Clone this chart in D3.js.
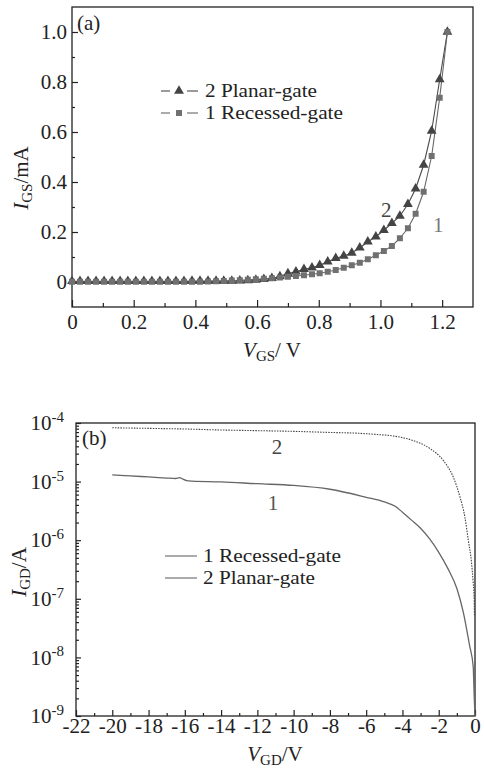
<!DOCTYPE html>
<html>
<head>
<meta charset="utf-8">
<script src="https://cdn.jsdelivr.net/npm/d3@7"></script>
<style>
    body { margin: 0; background: #fff; }
    svg text { font-family: 'Liberation Serif', 'Times New Roman', serif; }
</style>
</head>
<body>
<script>
// Panel (a) data: gate-source forward current
const vgs = [0, 0.026, 0.052, 0.078, 0.104, 0.130, 0.156, 0.181, 0.207, 0.233, 0.259, 0.285,
    0.311, 0.337, 0.363, 0.389, 0.415, 0.441, 0.467, 0.492, 0.518, 0.544, 0.570, 0.596,
    0.622, 0.648, 0.674, 0.700, 0.726, 0.752, 0.778, 0.803, 0.829, 0.855, 0.881, 0.907,
    0.933, 0.959, 0.985, 1.011, 1.037, 1.063, 1.089, 1.114, 1.140, 1.166, 1.192, 1.217];
const igsPlanar = [0.003, 0.003, 0.003, 0.003, 0.003, 0.003, 0.003, 0.003, 0.003, 0.003, 0.003, 0.003,
    0.003, 0.003, 0.003, 0.004, 0.004, 0.004, 0.004, 0.004, 0.004, 0.005, 0.006, 0.008,
    0.011, 0.015, 0.022, 0.034, 0.041, 0.051, 0.057, 0.067, 0.081, 0.095, 0.104, 0.116,
    0.137, 0.161, 0.181, 0.207, 0.235, 0.264, 0.311, 0.373, 0.468, 0.604, 0.81, 1.0];
const igsRecessed = [0.001, 0.001, 0.001, 0.001, 0.001, 0.001, 0.001, 0.001, 0.001, 0.001, 0.001, 0.001,
    0.001, 0.001, 0.001, 0.001, 0.001, 0.002, 0.003, 0.004, 0.006, 0.007, 0.009, 0.011,
    0.013, 0.015, 0.018, 0.021, 0.024, 0.027, 0.031, 0.035, 0.041, 0.048, 0.057, 0.067,
    0.077, 0.091, 0.107, 0.124, 0.144, 0.175, 0.215, 0.273, 0.361, 0.504, 0.737, 1.0];
const xTicksA = [0, 0.2, 0.4, 0.6, 0.8, 1.0, 1.2];
const xMinorA = [0.1, 0.3, 0.5, 0.7, 0.9, 1.1];
const yTicksA = [0, 0.2, 0.4, 0.6, 0.8, 1.0];
const yMinorA = [0.1, 0.3, 0.5, 0.7, 0.9];

// Panel (b) data: gate-drain reverse current
const vgdPlanar = [-20, -18, -16, -14, -12, -10, -8, -6.5, -5.5, -4.5, -3.4, -2.5, -1.75, -1.2,
    -0.83, -0.56, -0.37, -0.19, -0.1, -0.05, -0.03];
const igdPlanar = [8.3e-5, 8.1e-5, 7.9e-5, 7.6e-5, 7.4e-5, 7.2e-5, 6.9e-5, 6.7e-5, 6.4e-5, 6.0e-5,
    5.0e-5, 3.7e-5, 2.3e-5, 1.2e-5, 5.5e-6, 2.5e-6, 1.0e-6, 4.1e-7, 1.9e-7, 1.1e-7, 5e-8];
const vgdRecessed = [-20, -19, -18, -17, -16.5, -16.3, -16.1, -15.9, -15.6, -14, -12, -10, -8,
    -6, -5, -4.4, -4, -3.5, -3, -2.5, -2, -1.5, -1, -0.65, -0.3, -0.1, -0.04, 0];
const igdRecessed = [1.3e-5, 1.25e-5, 1.2e-5, 1.15e-5, 1.13e-5, 1.17e-5, 1.1e-5, 1.04e-5, 1.02e-5,
    9.9e-6, 9.2e-6, 8.6e-6, 7.4e-6, 5.4e-6, 4.5e-6, 3.8e-6, 3.0e-6, 2.2e-6, 1.6e-6, 1.05e-6,
    6.2e-7, 3.3e-7, 1.5e-7, 6e-8, 1.6e-8, 7e-9, 2e-9, 1e-9];
const xTicksB = [-22, -20, -18, -16, -14, -12, -10, -8, -6, -4, -2, 0];
const xMinorB = [-21, -19, -17, -15, -13, -11, -9, -7, -5, -3, -1];
const yExpB = [-9, -8, -7, -6, -5, -4];

const ink = '#222';
const fs = 21;

let svg = d3.select('body').append('svg').attr('width', 484).attr('height', 770);

// ---------- panel (a) ----------
let xA = d3.scaleLinear().domain([0, 1.3]).range([72, 473]);
let yA = d3.scaleLinear().domain([-0.1, 1.1]).range([307, 7]);

let gA = svg.append('g');

gA.append('g')
    .attr('transform', 'translate(0,307)')
    .call(d3.axisBottom(xA).tickValues(xTicksA).tickSize(-7).tickPadding(7)
        .tickFormat(d => (d === 0 ? '0' : d3.format('.1f')(d))));
gA.append('g')
    .attr('transform', 'translate(0,307)')
    .call(d3.axisBottom(xA).tickValues(xMinorA).tickSize(-4).tickFormat(''));
gA.append('g')
    .attr('transform', 'translate(72,0)')
    .call(d3.axisLeft(yA).tickValues(yTicksA).tickSize(-6).tickPadding(5)
        .tickFormat(d => (d === 0 ? '0' : d3.format('.1f')(d))));
gA.append('g')
    .attr('transform', 'translate(72,0)')
    .call(d3.axisLeft(yA).tickValues(yMinorA).tickSize(-3).tickFormat(''));

gA.append('rect')
    .attr('x', 72).attr('y', 7).attr('width', 401).attr('height', 300)
    .attr('fill', 'none').attr('stroke', ink).attr('stroke-width', 1.3);

let ptsPlanar = vgs.map((v, i) => [v, igsPlanar[i]]);
let ptsRecessed = vgs.map((v, i) => [v, igsRecessed[i]]);
let lineA = d3.line().x(d => xA(d[0])).y(d => yA(d[1]));

gA.append('path').datum(ptsPlanar)
    .attr('d', lineA).attr('fill', 'none').attr('stroke', '#4a4a4a').attr('stroke-width', 1.1);
gA.append('path').datum(ptsRecessed)
    .attr('d', lineA).attr('fill', 'none').attr('stroke', '#666').attr('stroke-width', 1.1);

let tri = d3.symbol(d3.symbolTriangle).size(42);
let sq = d3.symbol(d3.symbolSquare).size(36);

gA.selectAll('path.tri').data(ptsPlanar).enter().append('path')
    .attr('class', 'tri')
    .attr('d', tri)
    .attr('transform', d => `translate(${xA(d[0])},${yA(d[1])})`)
    .attr('fill', '#444');
gA.selectAll('path.sq').data(ptsRecessed).enter().append('path')
    .attr('class', 'sq')
    .attr('d', sq)
    .attr('transform', d => `translate(${xA(d[0])},${yA(d[1])})`)
    .attr('fill', '#707070');

// legend (a)
let legA = [
    { y: 91, sym: tri, fill: '#444', stroke: '#4a4a4a', label: '2 Planar-gate', w: 112 },
    { y: 113, sym: sq, fill: '#707070', stroke: '#666', label: '1 Recessed-gate', w: 138 }
];
legA.forEach(l => {
    gA.append('line').attr('x1', 161).attr('x2', 170).attr('y1', l.y).attr('y2', l.y)
        .attr('stroke', l.stroke).attr('stroke-width', 1.1);
    gA.append('line').attr('x1', 187).attr('x2', 198).attr('y1', l.y).attr('y2', l.y)
        .attr('stroke', l.stroke).attr('stroke-width', 1.1);
    gA.append('path').attr('d', l.sym).attr('transform', `translate(179,${l.y})`).attr('fill', l.fill);
    gA.append('text').attr('x', 205).attr('y', l.y + 6).attr('font-size', 19)
        .attr('textLength', l.w).attr('lengthAdjust', 'spacingAndGlyphs')
        .attr('fill', ink).text(l.label);
});

gA.append('text').attr('x', 77).attr('y', 30).attr('font-size', fs).attr('fill', ink).text('(a)');
gA.append('text').attr('x', 381).attr('y', 217).attr('font-size', fs).attr('fill', '#444').text('2');
gA.append('text').attr('x', 433).attr('y', 232).attr('font-size', fs).attr('fill', '#777').text('1');

let xLabA = gA.append('text').attr('x', 272).attr('y', 357).attr('text-anchor', 'middle')
    .attr('font-size', fs).attr('fill', ink);
xLabA.append('tspan').attr('font-style', 'italic').text('V');
xLabA.append('tspan').attr('font-size', 15).attr('dy', 4).text('GS');
xLabA.append('tspan').attr('dy', -4).text('/ V');

let yLabA = gA.append('text').attr('transform', 'translate(28,178) rotate(-90)')
    .attr('text-anchor', 'middle').attr('font-size', fs).attr('fill', ink);
yLabA.append('tspan').attr('font-style', 'italic').text('I');
yLabA.append('tspan').attr('font-size', 15).attr('dy', 4).text('GS');
yLabA.append('tspan').attr('dy', -4).text('/mA');

// ---------- panel (b) ----------
let xB = d3.scaleLinear().domain([-22, 0]).range([76, 475]);
let yB = d3.scaleLog().domain([1e-9, 1e-4]).range([716, 423]);

let gB = svg.append('g');

gB.append('g')
    .attr('transform', 'translate(0,716)')
    .call(d3.axisBottom(xB).tickValues(xTicksB).tickSize(-6).tickPadding(2).tickFormat(d => String(d)));
gB.append('g')
    .attr('transform', 'translate(0,716)')
    .call(d3.axisBottom(xB).tickValues(xMinorB).tickSize(-3).tickFormat(''));

let decades = yExpB.map(e => Math.pow(10, e));
let yMinorB = yB.ticks().filter(v => decades.every(d => Math.abs(v - d) / d > 1e-6));

let yAxB = gB.append('g')
    .attr('transform', 'translate(76,0)')
    .call(d3.axisLeft(yB).tickValues(decades).tickSize(-5).tickPadding(12).tickFormat(''));
gB.append('g')
    .attr('transform', 'translate(76,0)')
    .call(d3.axisLeft(yB).tickValues(yMinorB).tickSize(-3).tickFormat(''));

yAxB.selectAll('.tick text').each(function(d, i) {
    let t = d3.select(this);
    t.append('tspan').text('10');
    t.append('tspan').attr('font-size', 15).attr('dy', '-0.55em').text(String(yExpB[i]));
});

gB.append('rect')
    .attr('x', 76).attr('y', 423).attr('width', 399).attr('height', 293)
    .attr('fill', 'none').attr('stroke', ink).attr('stroke-width', 1.3);

let lineB = d3.line().curve(d3.curveMonotoneX).x(d => xB(d[0])).y(d => yB(d[1]));

gB.append('path').datum(vgdRecessed.map((v, i) => [v, igdRecessed[i]]))
    .attr('d', lineB).attr('fill', 'none').attr('stroke', '#666').attr('stroke-width', 1.3);
gB.append('path').datum(vgdPlanar.map((v, i) => [v, igdPlanar[i]]))
    .attr('d', lineB).attr('fill', 'none').attr('stroke', '#444').attr('stroke-width', 1.1)
    .attr('stroke-dasharray', '1.5,1.2');

// legend (b)
let legB = [
    { y: 556, label: '1 Recessed-gate', w: 138 },
    { y: 578, label: '2 Planar-gate', w: 112 }
];
legB.forEach(l => {
    gB.append('line').attr('x1', 165).attr('x2', 197).attr('y1', l.y).attr('y2', l.y)
        .attr('stroke', '#666').attr('stroke-width', 1.1);
    gB.append('text').attr('x', 203).attr('y', l.y + 6).attr('font-size', 19)
        .attr('textLength', l.w).attr('lengthAdjust', 'spacingAndGlyphs')
        .attr('fill', ink).text(l.label);
});

gB.append('text').attr('x', 82).attr('y', 445).attr('font-size', fs).attr('fill', ink).text('(b)');
gB.append('text').attr('x', 277).attr('y', 454).attr('text-anchor', 'middle').attr('font-size', fs).attr('fill', '#444').text('2');
gB.append('text').attr('x', 273).attr('y', 510).attr('text-anchor', 'middle').attr('font-size', fs).attr('fill', '#555').text('1');

let xLabB = gB.append('text').attr('x', 275).attr('y', 761).attr('text-anchor', 'middle')
    .attr('font-size', fs).attr('fill', ink);
xLabB.append('tspan').attr('font-style', 'italic').text('V');
xLabB.append('tspan').attr('font-size', 15).attr('dy', 4).text('GD');
xLabB.append('tspan').attr('dy', -4).text('/V');

let yLabB = gB.append('text').attr('transform', 'translate(26,572) rotate(-90)')
    .attr('text-anchor', 'middle').attr('font-size', fs).attr('fill', ink);
yLabB.append('tspan').attr('font-style', 'italic').text('I');
yLabB.append('tspan').attr('font-size', 15).attr('dy', 4).text('GD');
yLabB.append('tspan').attr('dy', -4).text('/A');

// axis styling
svg.selectAll('.domain').remove();
svg.selectAll('.tick line').attr('stroke', ink).attr('stroke-width', 1.2);
svg.selectAll('.tick text')
    .attr('font-family', "'Liberation Serif', 'Times New Roman', serif")
    .attr('font-size', fs)
    .attr('fill', ink);
</script>
</body>
</html>
